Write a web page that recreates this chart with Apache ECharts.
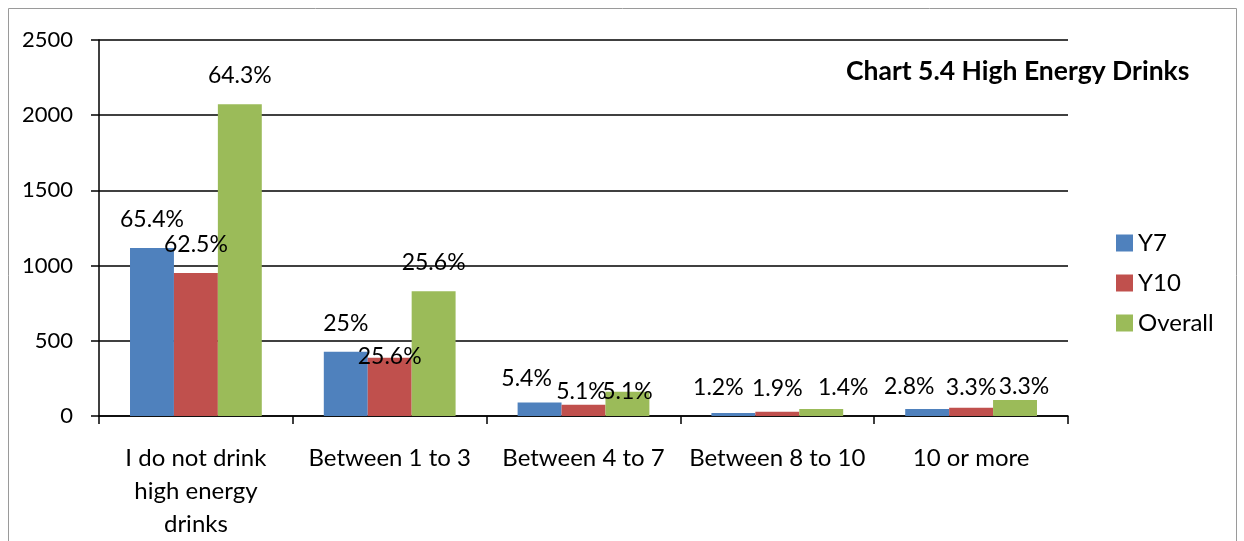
<!DOCTYPE html>
<html>
<head>
<meta charset="utf-8">
<script src="https://cdn.jsdelivr.net/npm/echarts@6/dist/echarts.min.js"></script>
<style>
  html, body { margin: 0; padding: 0; background: #fff; }
  #chart { width: 1244px; height: 541px; }
</style>
</head>
<body>
<div id="chart"></div>
<script>
// categories and series
const categories = ['I do not drink\nhigh energy\ndrinks', 'Between 1 to 3', 'Between 4 to 7', 'Between 8 to 10', '10 or more']
const y7 = [1117, 428, 90, 20, 47]
const y10 = [951, 388, 75, 29, 55]
const overall = [2073, 830, 162, 46, 106]
// percent labels shown above each bar
const y7Pct = ['65.4%', '25%', '5.4%', '1.2%', '2.8%']
const y10Pct = ['62.5%', '25.6%', '5.1%', '1.9%', '3.3%']
const overallPct = ['64.3%', '25.6%', '5.1%', '1.4%', '3.3%']
const yTicks = [0, 500, 1000, 1500, 2000, 2500]

// labels were nudged by hand in the original, [dx, dy] per bar
const y7Nudge = [[0, 0], [0, 0], [-13, 5], [-15, 3], [-18, 6]]
const y10Nudge = [[0, 0], [0, 27], [-2, 15], [0, 5], [0, 8]]
const overallNudge = [[0, 0], [0, 0], [0, 28], [22, 7], [9, 15]]

const uiFont = 'Lato'

let myChart = echarts.init(document.getElementById('chart'))

function barSeries(name, values, pct, nudge, color) {
  return {
    name: name,
    type: 'bar',
    barGap: '0%',
    barCategoryGap: '32%',
    itemStyle: { color: color },
    label: {
      show: true,
      position: 'top',
      distance: 17,
      color: '#000',
      fontFamily: uiFont,
      fontSize: 23,
      formatter: function(p) {
        return pct[p.dataIndex]
      }
    },
    data: values.map(function(v, i) {
      return { value: v, label: { offset: nudge[i] } }
    })
  }
}

let option = {
  animation: false,
  backgroundColor: '#fff',
  title: {
    text: 'Chart 5.4 High Energy Drinks',
    left: 841,
    top: 53,
    textStyle: {
      fontFamily: uiFont,
      fontWeight: 'bold',
      fontSize: 26.5,
      color: '#000'
    }
  },
  legend: {
    orient: 'vertical',
    left: 1111,
    top: 226,
    itemWidth: 17,
    itemHeight: 17,
    itemGap: 16,
    icon: 'rect',
    textStyle: { fontFamily: uiFont, fontSize: 24, color: '#000' },
    data: ['Y7', 'Y10', 'Overall']
  },
  grid: {
    left: 99,
    right: 176,
    top: 40,
    bottom: 125,
    containLabel: false
  },
  xAxis: {
    type: 'category',
    data: categories,
    axisLine: { lineStyle: { color: '#000', width: 1.5 } },
    axisTick: { show: true, length: 8, lineStyle: { color: '#000', width: 1.5 } },
    axisLabel: {
      interval: 0,
      color: '#000',
      fontFamily: uiFont,
      fontSize: 24,
      lineHeight: 33,
      margin: 26
    }
  },
  yAxis: {
    type: 'value',
    min: yTicks[0],
    max: yTicks[yTicks.length - 1],
    interval: 500,
    axisLine: { show: true, lineStyle: { color: '#000', width: 1.5 } },
    axisTick: { show: true, length: 8, lineStyle: { color: '#000', width: 1.5 } },
    axisLabel: {
      color: '#000',
      fontFamily: uiFont,
      fontSize: 22,
      margin: 26,
      formatter: function(v) {
        return String(v)
      }
    },
    splitLine: { show: true, lineStyle: { color: '#000', width: 1.5 } }
  },
  graphic: [
    {
      type: 'rect',
      shape: { x: 8.5, y: 8.5, width: 1228, height: 600 },
      style: { fill: 'none', stroke: '#9a9a9a', lineWidth: 1 },
      z: -1
    }
  ],
  series: [
    barSeries('Y7', y7, y7Pct, y7Nudge, '#4F81BD'),
    barSeries('Y10', y10, y10Pct, y10Nudge, '#C0504D'),
    barSeries('Overall', overall, overallPct, overallNudge, '#9BBB59')
  ]
}

myChart.setOption(option)
</script>
</body>
</html>
